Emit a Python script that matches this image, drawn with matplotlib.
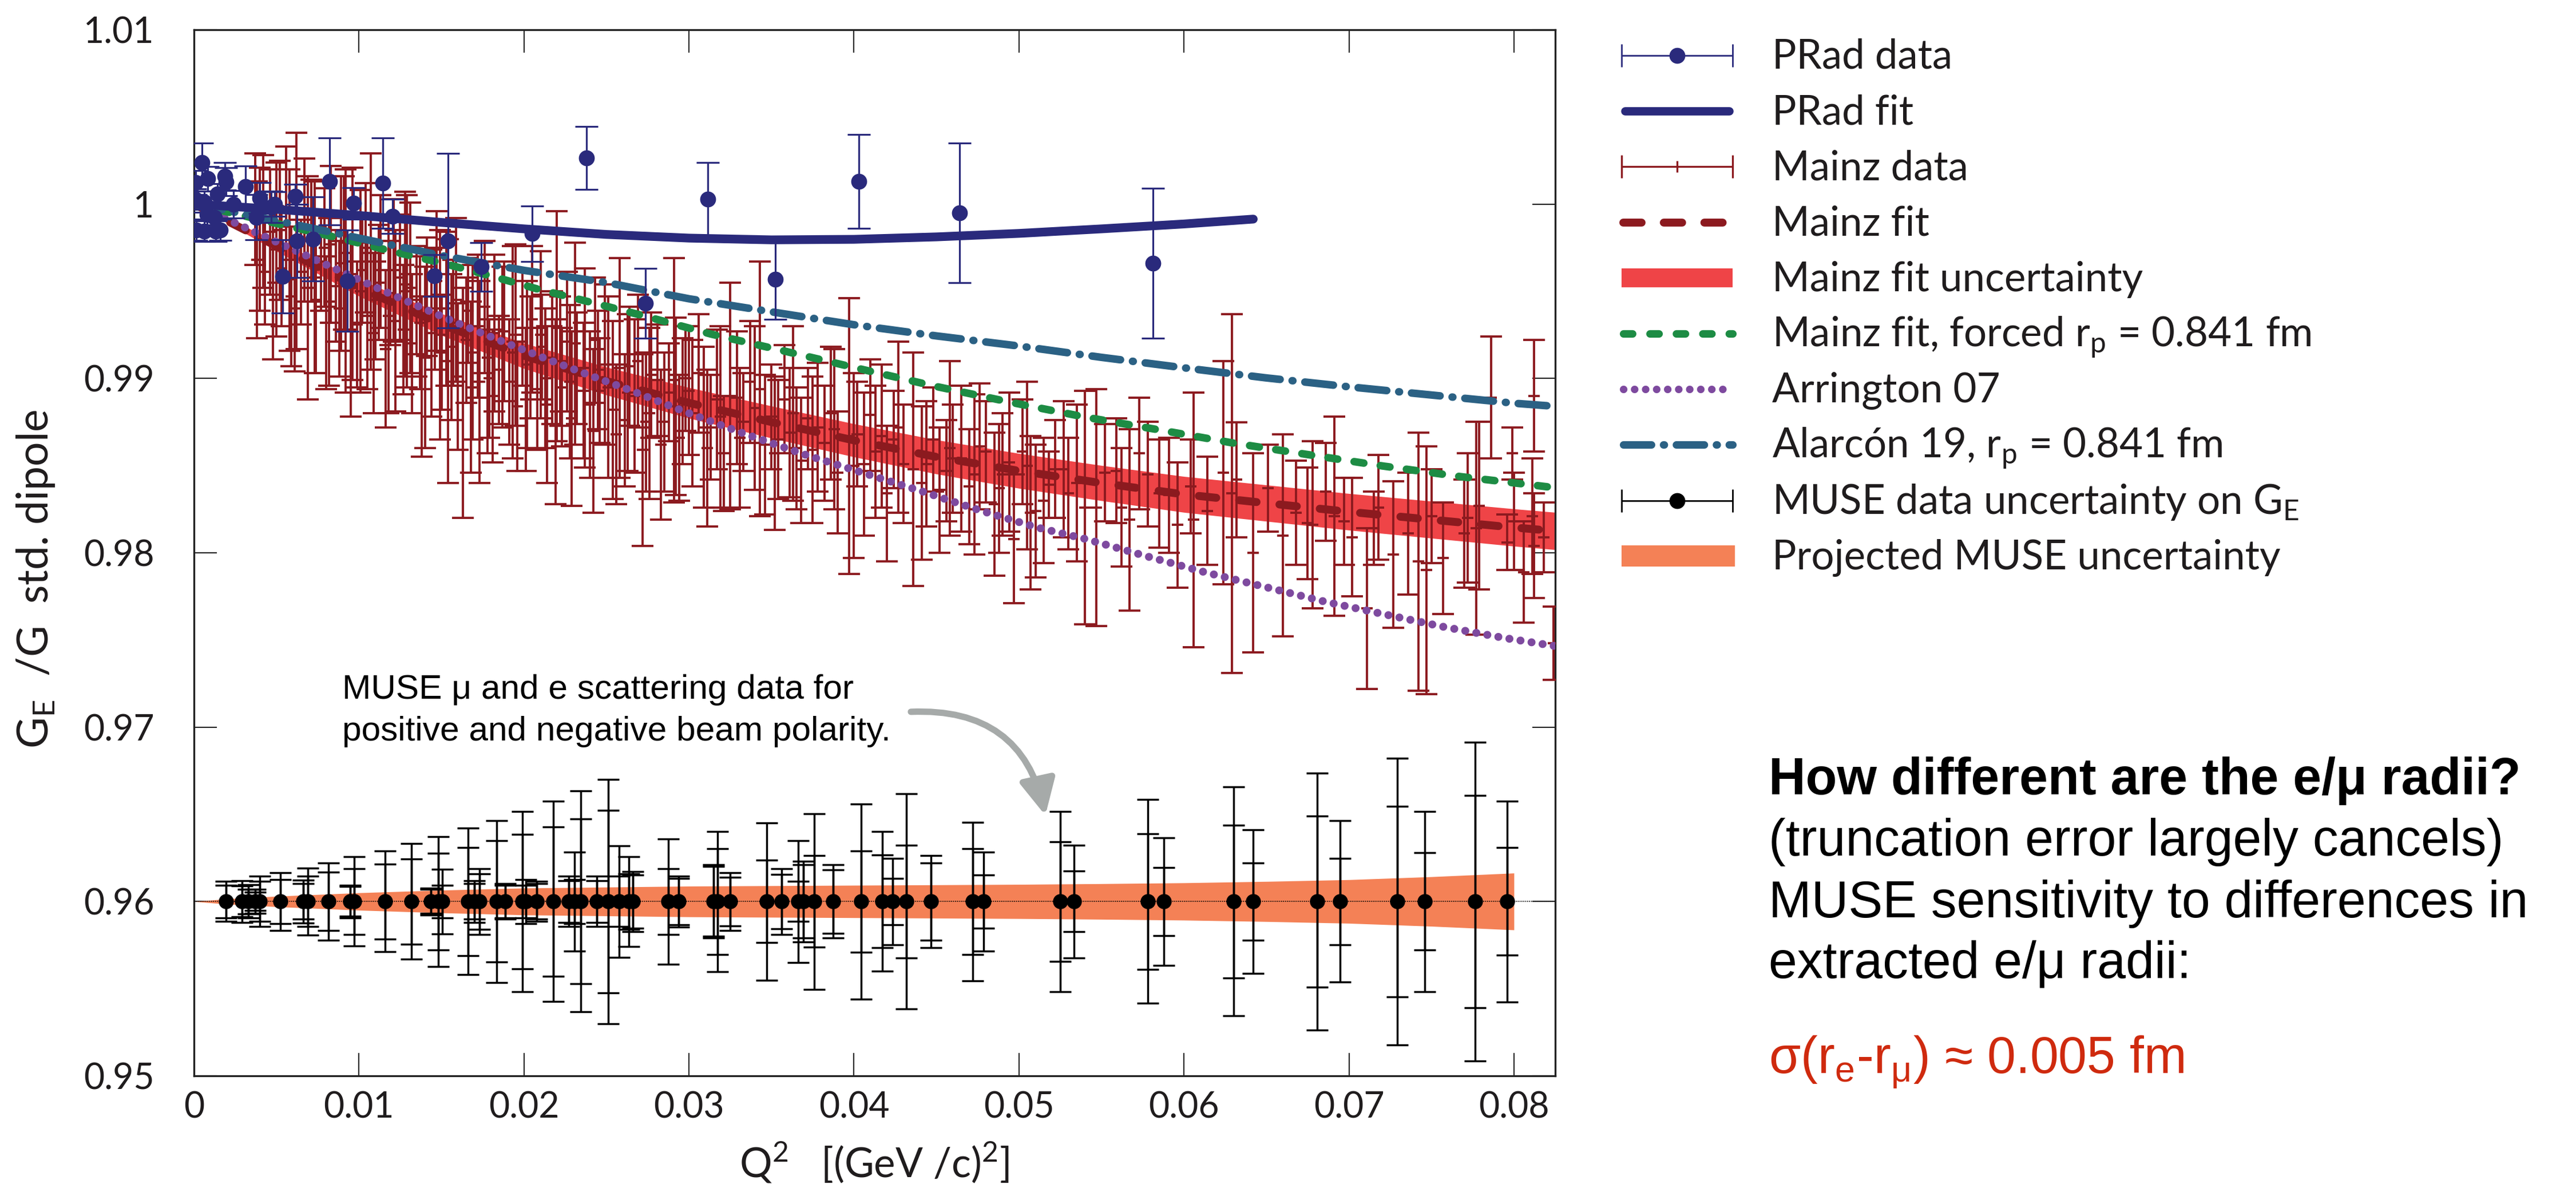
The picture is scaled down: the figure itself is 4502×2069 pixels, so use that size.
import numpy as np
import matplotlib
matplotlib.use("Agg")
import matplotlib.pyplot as plt
from matplotlib.patches import Rectangle

plt.rcParams['font.family'] = ['Lato', 'DejaVu Sans']

# ---------------- data ----------------
prad_q2 = [0.00006, 0.00010, 0.00013, 0.00050, 0.00062, 0.00062, 0.00080, 0.00083, 0.00124, 0.00133,
           0.00142, 0.00160, 0.00186, 0.00195, 0.00240, 0.00313, 0.00378, 0.00398, 0.00468, 0.00490,
           0.00536, 0.00614, 0.00625, 0.00720, 0.00823, 0.00928, 0.00969, 0.01144, 0.01202, 0.01458,
           0.01540, 0.01741, 0.02048, 0.02378, 0.02735, 0.03114, 0.03524, 0.04029, 0.04641, 0.05811]
prad_val = [1.00029, 1.00124, 0.99852, 1.00240, 1.00013, 0.99845, 0.99940, 1.00145, 0.99925, 0.99845,
            1.00057, 0.99852, 1.00160, 1.00128, 0.99999, 1.00100, 0.99924, 1.00035, 0.99984, 1.00000,
            0.99585, 1.00045, 0.99790, 0.99800, 1.00130, 0.99560, 1.00005, 1.00120, 0.99930, 0.99590,
            0.99790, 0.99640, 0.99830, 1.00265, 0.99430, 1.00030, 0.99570, 1.00130, 0.99950, 0.99660]
prad_err = [0.0006, 0.0007, 0.0006, 0.0011, 0.0006, 0.0006, 0.0006, 0.0007, 0.0006, 0.0006,
            0.0006, 0.0006, 0.0008, 0.0008, 0.0008, 0.0012, 0.0013, 0.0009, 0.0009, 0.0007,
            0.0021, 0.0007, 0.0021, 0.0024, 0.0025, 0.0029, 0.0009, 0.0026, 0.0010, 0.0012,
            0.0050, 0.0014, 0.0016, 0.0018, 0.0020, 0.0021, 0.0023, 0.0027, 0.0040, 0.0043]

prad_fit_q2 = [0.0, 0.005, 0.010, 0.015, 0.020, 0.025, 0.030, 0.035, 0.040, 0.045, 0.050, 0.055, 0.060, 0.0642]
prad_fit_val = [1.0, 0.99970, 0.99935, 0.99895, 0.99858, 0.99826, 0.99805, 0.99795, 0.99798, 0.99812,
                0.99832, 0.99858, 0.99886, 0.99914]

mainz_q2 = [
    0.0037, 0.0040, 0.0043, 0.0046, 0.0050, 0.0053, 0.0056, 0.0059, 0.0062, 0.0065,
    0.0069, 0.0071, 0.0074, 0.0077, 0.0080, 0.0083, 0.0086, 0.0089, 0.0092, 0.0096,
    0.0099, 0.0102, 0.0105, 0.0107, 0.0110, 0.0113, 0.0116, 0.0119, 0.0122, 0.0125,
    0.0128, 0.0129, 0.0132, 0.0135, 0.0138, 0.0141, 0.0144, 0.0147, 0.0150, 0.0153,
    0.0154, 0.0157, 0.0160, 0.0163, 0.0166, 0.0169, 0.0173, 0.0176, 0.0179, 0.0182,
    0.0185, 0.0188, 0.0193, 0.0196, 0.0199, 0.0202, 0.0205, 0.0208, 0.0211, 0.0214,
    0.0217, 0.0220, 0.0223, 0.0226, 0.0229, 0.0232, 0.0237, 0.0240, 0.0243, 0.0246,
    0.0249, 0.0254, 0.0258, 0.0261, 0.0264, 0.0267, 0.0272, 0.0274, 0.0277,
    0.0281, 0.0285, 0.0288, 0.0291, 0.0294, 0.0296, 0.0298, 0.0302, 0.0306, 0.0309,
    0.0313, 0.0317, 0.0321, 0.0325, 0.0329, 0.0333, 0.0337, 0.0343, 0.0346, 0.0350,
    0.0354, 0.0358, 0.0361, 0.0365, 0.0368, 0.0372, 0.0378, 0.0382, 0.0386, 0.0390,
    0.0397, 0.0402, 0.0406, 0.0410, 0.0417, 0.0420, 0.0424, 0.0430, 0.0436, 0.0444,
    0.0448, 0.0452, 0.0456, 0.0460, 0.0465, 0.0470, 0.0476, 0.0480, 0.0488, 0.0490,
    0.0494, 0.0497, 0.0502, 0.0507, 0.0510, 0.0518, 0.0522, 0.0527, 0.0530, 0.0540,
    0.0547, 0.0552, 0.0559, 0.0562, 0.0567, 0.0573, 0.0578, 0.0585, 0.0591, 0.0596,
    0.0604, 0.0606, 0.0614, 0.0624, 0.0629, 0.0632, 0.0642, 0.0651, 0.0660, 0.0668,
    0.0675, 0.0678, 0.0686, 0.0691, 0.0697, 0.0702, 0.0711, 0.0715, 0.0718, 0.0727,
    0.0736, 0.0742, 0.0747, 0.0750, 0.0757, 0.0770, 0.0772, 0.0777, 0.0779, 0.0786,
    0.0796, 0.0799, 0.0800, 0.0806, 0.0811, 0.0812, 0.0812, 0.0818, 0.0824]
mainz_val = [
    0.9997, 0.9980, 0.9961, 0.9984, 0.9974, 0.9963, 0.9995, 0.9947, 0.9979, 0.9961,
    0.9952, 0.9979, 0.9945, 0.9967, 0.9932, 0.9977, 0.9953, 0.9966, 0.9956, 0.9960,
    0.9931, 0.9962, 0.9936, 0.9967, 0.9945, 0.9967, 0.9917, 0.9949, 0.9933, 0.9958,
    0.9954, 0.9950, 0.9920, 0.9945, 0.9901, 0.9947, 0.9926, 0.9956, 0.9915, 0.9940,
    0.9910, 0.9932, 0.9901, 0.9886, 0.9939, 0.9915, 0.9898, 0.9941, 0.9900, 0.9926,
    0.9905, 0.9927, 0.9915, 0.9884, 0.9929, 0.9908, 0.9934, 0.9894, 0.9918, 0.9885,
    0.9912, 0.9930, 0.9895, 0.9921, 0.9877, 0.9906, 0.9906, 0.9885, 0.9922, 0.9893,
    0.9908, 0.9882, 0.9906, 0.9876, 0.9907, 0.9890, 0.9859, 0.9875, 0.9902,
    0.9899, 0.9875, 0.9892, 0.9899, 0.9866, 0.9887, 0.9900, 0.9880, 0.9903, 0.9872,
    0.9872, 0.9888, 0.9857, 0.9890, 0.9889, 0.9875, 0.9898, 0.9894, 0.9862, 0.9878,
    0.9865, 0.9888, 0.9869, 0.9860, 0.9853, 0.9877, 0.9872, 0.9863, 0.9880, 0.9846,
    0.9867, 0.9868, 0.9851, 0.9879, 0.9867, 0.9834, 0.9865, 0.9851, 0.9848, 0.9851,
    0.9865, 0.9836, 0.9847, 0.9854, 0.9854, 0.9838, 0.9861, 0.9858, 0.9837, 0.9845,
    0.9852, 0.9808, 0.9858, 0.9823, 0.9824, 0.9839, 0.9848, 0.9848, 0.9834, 0.9826,
    0.9826, 0.9846, 0.9847, 0.9826, 0.9819, 0.9857, 0.9845, 0.9834, 0.9833, 0.9816,
    0.9838, 0.9819, 0.9824, 0.9846, 0.9834, 0.9842, 0.9800, 0.9837, 0.9810, 0.9823,
    0.9817, 0.9816, 0.9835, 0.9821, 0.9818, 0.9809, 0.9768, 0.9814, 0.9826, 0.9799,
    0.9811, 0.9795, 0.9790, 0.9821, 0.9797, 0.9811, 0.9820, 0.9814, 0.9827, 0.9889,
    0.9806, 0.9857, 0.9818, 0.9789, 0.9821, 0.9890, 0.9804, 0.9809, 0.9748]
mainz_err = [
    0.0032, 0.0041, 0.0030, 0.0036, 0.0050, 0.0033, 0.0038, 0.0040, 0.0062, 0.0030,
    0.0064, 0.0035, 0.0042, 0.0028, 0.0038, 0.0045, 0.0032, 0.0050, 0.0064, 0.0061,
    0.0036, 0.0030, 0.0042, 0.0062, 0.0034, 0.0038, 0.0045, 0.0030, 0.0052, 0.0036,
    0.0053, 0.0055, 0.0040, 0.0031, 0.0046, 0.0034, 0.0048, 0.0040, 0.0033, 0.0044,
    0.0070, 0.0036, 0.0042, 0.0066, 0.0030, 0.0050, 0.0058, 0.0038, 0.0034, 0.0045,
    0.0031, 0.0040, 0.0061, 0.0037, 0.0033, 0.0048, 0.0042, 0.0035, 0.0030, 0.0045,
    0.0038, 0.0066, 0.0034, 0.0040, 0.0050, 0.0032, 0.0057, 0.0042, 0.0036, 0.0030,
    0.0046, 0.0051, 0.0063, 0.0038, 0.0034, 0.0044, 0.0055, 0.0040, 0.0036,
    0.0032, 0.0040, 0.0028, 0.0070, 0.0036, 0.0036, 0.0030, 0.0042, 0.0034, 0.0046,
    0.0030, 0.0040, 0.0033, 0.0065, 0.0038, 0.0028, 0.0035, 0.0073, 0.0040, 0.0030,
    0.0034, 0.0031, 0.0037, 0.0035, 0.0036, 0.0029, 0.0037, 0.0033, 0.0038, 0.0035,
    0.0079, 0.0030, 0.0041, 0.0032, 0.0041, 0.0039, 0.0028, 0.0034, 0.0067, 0.0036,
    0.0030, 0.0036, 0.0029, 0.0031, 0.0042, 0.0033, 0.0036, 0.0029, 0.0037, 0.0035,
    0.0040, 0.0037, 0.0030, 0.0044, 0.0038, 0.0019, 0.0028, 0.0039, 0.0032, 0.0067,
    0.0068, 0.0028, 0.0030, 0.0034, 0.0052, 0.0032, 0.0030, 0.0031, 0.0033, 0.0036,
    0.0027, 0.0073, 0.0031, 0.0064, 0.0103, 0.0033, 0.0057, 0.0025, 0.0058, 0.0030,
    0.0032, 0.0048, 0.0028, 0.0057, 0.0025, 0.0034, 0.0046, 0.0021, 0.0030, 0.0042,
    0.0035, 0.0074, 0.0071, 0.0027, 0.0032, 0.0031, 0.0037, 0.0061, 0.0048, 0.0035,
    0.0016, 0.0015, 0.0028, 0.0029, 0.0033, 0.0032, 0.0030, 0.0020, 0.0021]

# further Mainz points in the dense low-Q2 region
mainz_b_q2 = [
    0.0038, 0.0042, 0.0048, 0.0052, 0.0058, 0.0061, 0.0067, 0.0073, 0.0079, 0.0082, 0.0088, 0.0091,
    0.0095, 0.0101, 0.0104, 0.0109, 0.0112, 0.0118, 0.0121, 0.0127, 0.0131, 0.0137, 0.0140, 0.0146,
    0.0149, 0.0156, 0.0159, 0.0165, 0.0168, 0.0172, 0.0178, 0.0181, 0.0187, 0.0191, 0.0195, 0.0201,
    0.0204, 0.0210, 0.0213, 0.0219, 0.0222, 0.0228, 0.0231, 0.0236, 0.0242, 0.0245, 0.0251, 0.0256,
    0.0263, 0.0269, 0.0276, 0.0283, 0.0292, 0.0300, 0.0311, 0.0319, 0.0331, 0.0340, 0.0352, 0.0363,
    0.0375, 0.0388, 0.0400, 0.0413, 0.0427, 0.0441, 0.0458, 0.0473, 0.0485, 0.0505, 0.0515, 0.0535]
mainz_b_val = [
    0.9968, 0.9990, 0.9955, 0.9985, 0.9968, 0.9940, 0.9985, 0.9958, 0.9975, 0.9944, 0.9940, 0.9972,
    0.9928, 0.9950, 0.9975, 0.9926, 0.9955, 0.9936, 0.9962, 0.9928, 0.9952, 0.9932, 0.9912, 0.9940,
    0.9925, 0.9918, 0.9945, 0.9922, 0.9895, 0.9930, 0.9912, 0.9890, 0.9918, 0.9898, 0.9925, 0.9888,
    0.9912, 0.9925, 0.9900, 0.9881, 0.9910, 0.9898, 0.9920, 0.9893, 0.9870, 0.9905, 0.9895, 0.9868,
    0.9892, 0.9910, 0.9880, 0.9862, 0.9884, 0.9893, 0.9860, 0.9878, 0.9866, 0.9883, 0.9857, 0.9880,
    0.9859, 0.9871, 0.9850, 0.9858, 0.9872, 0.9840, 0.9860, 0.9845, 0.9828, 0.9850, 0.9830, 0.9840]
mainz_b_err = [
    0.0045, 0.0038, 0.0044, 0.0040, 0.0052, 0.0036, 0.0041, 0.0055, 0.0034, 0.0048, 0.0039, 0.0044,
    0.0050, 0.0058, 0.0037, 0.0046, 0.0033, 0.0056, 0.0041, 0.0037, 0.0049, 0.0038, 0.0052, 0.0035,
    0.0060, 0.0042, 0.0047, 0.0036, 0.0049, 0.0041, 0.0055, 0.0038, 0.0046, 0.0036, 0.0052, 0.0041,
    0.0035, 0.0048, 0.0040, 0.0053, 0.0037, 0.0044, 0.0058, 0.0039, 0.0047, 0.0034, 0.0052, 0.0040,
    0.0045, 0.0038, 0.0049, 0.0043, 0.0051, 0.0037, 0.0045, 0.0052, 0.0040, 0.0047, 0.0044, 0.0050,
    0.0042, 0.0046, 0.0053, 0.0038, 0.0049, 0.0044, 0.0050, 0.0046, 0.0041, 0.0048, 0.0036, 0.0045]

mainz_fit_q2 = [0.0, 0.005, 0.010, 0.015, 0.020, 0.025, 0.030, 0.035, 0.040, 0.045,
                0.050, 0.055, 0.060, 0.065, 0.070, 0.075, 0.080, 0.0825]
mainz_fit_val = [1.0, 0.99760, 0.99520, 0.99310, 0.99130, 0.98985, 0.98860, 0.98750, 0.98645, 0.98550,
                 0.98470, 0.98400, 0.98335, 0.98285, 0.98235, 0.98190, 0.98145, 0.98125]
mainz_fit_unc = [0.0, 0.00030, 0.00048, 0.00062, 0.00073, 0.00080, 0.00088, 0.00092, 0.00095, 0.00098,
                 0.00100, 0.00101, 0.00103, 0.00104, 0.00105, 0.00106, 0.00107, 0.00107]

forced_q2 = [0.0, 0.005, 0.00884, 0.01202, 0.01521, 0.01803, 0.02086, 0.02405, 0.02723, 0.03132,
             0.03592, 0.0405, 0.04493, 0.04951, 0.05409, 0.05862, 0.06296, 0.06767, 0.07204, 0.07675,
             0.08146, 0.0825]
forced_val = [1.0, 0.99889, 0.99804, 0.99729, 0.99658, 0.99587, 0.99512, 0.99437, 0.99360, 0.99255,
              0.99154, 0.99052, 0.98955, 0.98863, 0.98777, 0.98703, 0.98630, 0.98561, 0.98498, 0.98437,
              0.98385, 0.98373]

arrington_q2 = [0.0, 0.00265, 0.0053, 0.00796, 0.0106, 0.01326, 0.0159, 0.01856, 0.0212, 0.02387,
                0.02637, 0.0299, 0.03344, 0.03697, 0.0405, 0.04404, 0.04757, 0.05111, 0.05409, 0.05771,
                0.06133, 0.06497, 0.06858, 0.07221, 0.07585, 0.07945, 0.0825]
arrington_val = [1.0, 0.99885, 0.99770, 0.99655, 0.99540, 0.99428, 0.99320, 0.99217, 0.99118, 0.99022,
                 0.98935, 0.98804, 0.98680, 0.98565, 0.98460, 0.98355, 0.98245, 0.98145, 0.98078, 0.97981,
                 0.97887, 0.97803, 0.97719, 0.97646, 0.97573, 0.97511, 0.97465]

alarcon_q2 = [0.0, 0.005, 0.010, 0.015, 0.020, 0.025, 0.030, 0.035, 0.040, 0.045, 0.050, 0.055,
              0.060, 0.065, 0.070, 0.075, 0.080, 0.0825]
alarcon_val = [1.0, 0.99905, 0.99805, 0.99705, 0.99620, 0.99550, 0.99457, 0.99382, 0.99308, 0.99244,
               0.99186, 0.99121, 0.99061, 0.99003, 0.98952, 0.98905, 0.98858, 0.98840]

muse_offset = 0.96
muse_q2 = [0.00194, 0.00293, 0.00329, 0.00371, 0.00399, 0.00523, 0.00664, 0.00689, 0.00816, 0.00947,
           0.00972, 0.01159, 0.01318, 0.01435, 0.01480, 0.01505, 0.01661, 0.01700, 0.01731, 0.01834,
           0.01887, 0.01989, 0.02011, 0.02078, 0.02177, 0.02272, 0.02307, 0.02343, 0.02442, 0.02512,
           0.02576, 0.02636, 0.02661, 0.02876, 0.02936, 0.03148, 0.03173, 0.03251, 0.03470, 0.03562,
           0.03661, 0.03693, 0.03760, 0.03873, 0.04042, 0.04173, 0.04233, 0.04318, 0.04467, 0.04721,
           0.04785, 0.05252, 0.05332, 0.05782, 0.05878, 0.06302, 0.06419, 0.06806, 0.06947, 0.07294,
           0.07461, 0.07764, 0.07958]
muse_err_outer = [0.00115, 0.00119, 0.00095, 0.00069, 0.00144, 0.00166, 0.00124, 0.00192, 0.00222, 0.00094,
                  0.00256, 0.00289, 0.00331, 0.00077, 0.00373, 0.00186, 0.00420, 0.00119, 0.00189, 0.00465,
                  0.00102, 0.00518, 0.00127, 0.00115, 0.00574, 0.00144, 0.00283, 0.00634, 0.00144, 0.00700,
                  0.00319, 0.00258, 0.00172, 0.00360, 0.00147, 0.00210, 0.00403, 0.00166, 0.00452, 0.00189,
                  0.00350, 0.00232, 0.00503, 0.00210, 0.00560, 0.00400, 0.00247, 0.00617, 0.00265, 0.00455,
                  0.00284, 0.00518, 0.00324, 0.00584, 0.00365, 0.00657, 0.00413, 0.00737, 0.00463, 0.00823,
                  0.00518, 0.00915, 0.00577]
muse_err_inner = [0.00094, 0.00089, 0.00070, 0.00052, 0.00115, 0.00127, 0.00102, 0.00144, 0.00167, 0.00085,
                  0.00189, 0.00214, 0.00244, 0.00069, 0.00278, 0.00094, 0.00311, 0.00102, 0.00160, 0.00348,
                  0.00094, 0.00386, 0.00094, 0.00102, 0.00428, 0.00119, 0.00127, 0.00473, 0.00119, 0.00523,
                  0.00144, 0.00159, 0.00152, 0.00189, 0.00132, 0.00200, 0.00303, 0.00139, 0.00236, 0.00156,
                  0.00115, 0.00210, 0.00263, 0.00182, 0.00290, 0.00266, 0.00132, 0.00324, 0.00222, 0.00303,
                  0.00152, 0.00344, 0.00174, 0.00388, 0.00196, 0.00438, 0.00221, 0.00490, 0.00247, 0.00547,
                  0.00279, 0.00609, 0.00309]

muse_band_q2 = [0.0, 0.002, 0.005, 0.010, 0.015, 0.020, 0.030, 0.040, 0.050, 0.055, 0.060, 0.065,
                0.070, 0.075, 0.080]
muse_band_hw = [0.0, 0.00015, 0.00030, 0.00050, 0.00065, 0.00077, 0.00088, 0.00093, 0.00098, 0.00102,
                0.00107, 0.00115, 0.00125, 0.00142, 0.00163]

xticks = [0.0, 0.01, 0.02, 0.03, 0.04, 0.05, 0.06, 0.07, 0.08]
xticklabels = ['0', '0.01', '0.02', '0.03', '0.04', '0.05', '0.06', '0.07', '0.08']
yticks = [0.95, 0.96, 0.97, 0.98, 0.99, 1.00, 1.01]
yticklabels = ['0.95', '0.96', '0.97', '0.98', '0.99', '1', '1.01']

legend_labels = ['PRad data', 'PRad fit', 'Mainz data', 'Mainz fit', 'Mainz fit uncertainty',
                 r'Mainz fit, forced r$_\mathdefault{p}$ = 0.841 fm', 'Arrington 07',
                 r'Alarcón 19, r$_\mathdefault{p}$ = 0.841 fm',
                 r'MUSE data uncertainty on G$_\mathdefault{E}$', 'Projected MUSE uncertainty']

# ---------------- style ----------------
NAVY = '#2a2a7c'
DRED = '#8c1a1f'
BAND = '#ef4447'
GREEN = '#1d8c44'
PURPLE = '#7e4a9f'
TEAL = '#2b6184'
ORANGE = '#f48156'
GRAY = '#a6aaa9'
TXT = '#1f1c1d'
REDTXT = '#cf2a0e'

W, H = 4502, 2069
fig = plt.figure(figsize=(W / 100, H / 100), dpi=100)
ax = fig.add_axes([339 / W, 1 - 1880 / H, (2718 - 339) / W, (1880 - 52) / H])
ax.set_xlim(0, 0.0825)
ax.set_ylim(0.95, 1.01)

# Mainz band + data + fit
mf_v = np.array(mainz_fit_val)
mf_u = np.array(mainz_fit_unc)
ax.fill_between(mainz_fit_q2, mf_v - mf_u, mf_v + mf_u, color=BAND, lw=0, zorder=2)
mz_q = mainz_q2 + mainz_b_q2
mz_v = mainz_val + mainz_b_val
mz_e = mainz_err + mainz_b_err
ax.errorbar(mz_q, mz_v, yerr=mz_e, fmt='_', ms=14, mew=2.8, color=DRED,
            elinewidth=2.8, capsize=14, capthick=2.8, zorder=3)
ax.plot(mainz_fit_q2, mainz_fit_val, color=DRED, lw=10, dashes=(2.2, 2.9),
        dash_capstyle='round', zorder=4)
ax.plot(arrington_q2, arrington_val, color=PURPLE, lw=10, dashes=(0.01, 1.4),
        dash_capstyle='round', zorder=5)
ax.plot(forced_q2, forced_val, color=GREEN, lw=9.5, dashes=(1.3, 2.2),
        dash_capstyle='round', zorder=6)
ax.plot(alarcon_q2, alarcon_val, color=TEAL, lw=9.5, dashes=(3.8, 1.6, 0.1, 1.6),
        dash_capstyle='round', zorder=7)
ax.plot(prad_fit_q2, prad_fit_val, color=NAVY, lw=11, solid_capstyle='round', zorder=8)
ax.errorbar(prad_q2, prad_val, yerr=prad_err, fmt='o', ms=19, color=NAVY, mec=NAVY,
            elinewidth=2.3, capsize=14.5, capthick=2.3, zorder=9)

# MUSE
mb_hw = np.array(muse_band_hw)
ax.fill_between(muse_band_q2, muse_offset - mb_hw, muse_offset + mb_hw, color=ORANGE, lw=0, zorder=2)
ax.axhline(muse_offset, color='black', lw=1.2, ls=(0, (1, 1)), zorder=3)
muse_val = np.full(len(muse_q2), muse_offset)
ax.errorbar(muse_q2, muse_val, yerr=muse_err_outer, fmt='o', ms=18, color='black',
            elinewidth=2.5, capsize=13.7, capthick=2.5, zorder=4)
ax.errorbar(muse_q2, muse_val, yerr=muse_err_inner, fmt='none', ecolor='black',
            elinewidth=2.5, capsize=13.7, capthick=2.5, zorder=4)

# axes style
ax.set_xticks(xticks)
ax.set_xticklabels(xticklabels)
ax.set_yticks(yticks)
ax.set_yticklabels(yticklabels)
ax.tick_params(axis='both', which='major', direction='in', length=28.8, width=1.5,
               top=True, right=True, labelsize=45, colors='#222222', labelcolor=TXT)
ax.tick_params(axis='x', pad=19)
ax.tick_params(axis='y', pad=50)
for s in ax.spines.values():
    s.set_linewidth(2.4)
    s.set_color('#222222')

ax.set_xlabel(r'Q$^\mathdefault{2}$   [(GeV /c)$^\mathdefault{2}$]', fontsize=51, color=TXT)
ax.xaxis.set_label_coords(0.5, -0.061)
ax.set_ylabel(r'G$_\mathdefault{E}$  /G  std. dipole', fontsize=54, color=TXT)
ax.yaxis.set_label_coords(-0.101, 0.475)

# annotation inside axes
ax.text(0.00897, 0.97163, 'MUSE μ and e scattering data for', fontsize=43.5,
        family=['Liberation Sans', 'DejaVu Sans'], color='black', va='baseline', ha='left', zorder=10)
ax.text(0.00897, 0.96924, 'positive and negative beam polarity.', fontsize=43.5,
        family=['Liberation Sans', 'DejaVu Sans'], color='black', va='baseline', ha='left', zorder=10)
ax.annotate('', xy=(0.0516, 0.96494), xytext=(0.04345, 0.97088),
            arrowprops=dict(arrowstyle='-|>,head_length=0.9,head_width=0.45', mutation_scale=42,
                            connectionstyle='arc3,rad=-0.42', color=GRAY, lw=8,
                            shrinkA=0, shrinkB=0), zorder=10)

# ---------------- legend & side text (overlay in pixel units) ----------------
lax = fig.add_axes([0, 0, 1, 1], zorder=10)
lax.set_xlim(0, W)
lax.set_ylim(H, 0)
lax.axis('off')
lax.patch.set_alpha(0)

LX0, LX1, LTX = 2834, 3028, 3097
LY0, LDY = 97, 97.2
hx = [LX0, LX1]
xc = (LX0 + LX1) / 2
rows = [LY0 + i * LDY for i in range(len(legend_labels))]


def err_handle(y, color, lw, marker, ms):
    lax.plot(hx, [y, y], color=color, lw=lw, solid_capstyle='butt')
    lax.plot(hx, [y, y], ls='none', marker='|', ms=29, mew=lw, color=color)
    lax.plot([xc], [y], ls='none', marker=marker, ms=ms, mew=lw, color=color)


err_handle(rows[0], NAVY, 2.0, 'o', 18)
lax.plot([LX0 + 6, LX1 - 6], [rows[1]] * 2, color=NAVY, lw=10.5, solid_capstyle='round')
err_handle(rows[2], DRED, 2.4, '|', 14)
lax.plot([LX0 + 3, LX1], [rows[3]] * 2, color=DRED, lw=10, dashes=(2.3, 2.8), dash_capstyle='round')
lax.add_patch(Rectangle((LX0, rows[4] - 16.5), LX1 - LX0, 33, color=BAND, lw=0))
lax.plot([LX0 + 3, LX1], [rows[5]] * 2, color=GREEN, lw=9.5, dashes=(1.2, 2.3), dash_capstyle='round')
lax.plot([LX0 + 3, LX1], [rows[6]] * 2, color=PURPLE, lw=9.5, dashes=(0.01, 1.45), dash_capstyle='round')
lax.plot([LX0 + 3, LX1], [rows[7]] * 2, color=TEAL, lw=9.5, dashes=(3.7, 1.6, 0.1, 1.6), dash_capstyle='round')
err_handle(rows[8], 'black', 2.0, 'o', 18)
lax.add_patch(Rectangle((LX0, rows[9] - 18.5), LX1 - LX0 + 4, 37, color=ORANGE, lw=0))

for y, lab in zip(rows, legend_labels):
    lax.text(LTX, y + 23, lab, fontsize=51, va='baseline', ha='left', color=TXT)

side_font = ['Liberation Sans', 'DejaVu Sans']
lax.text(3091, 1388, 'How different are the e/μ radii?', fontsize=64.5, fontweight='bold',
         family=side_font, va='baseline', ha='left', color='black')
lax.text(3091, 1495, '(truncation error largely cancels)', fontsize=64.5,
         family=side_font, va='baseline', ha='left', color='black')
lax.text(3091, 1603, 'MUSE sensitivity to differences in', fontsize=64.5,
         family=side_font, va='baseline', ha='left', color='black')
lax.text(3091, 1709, 'extracted e/μ radii:', fontsize=64.5,
         family=side_font, va='baseline', ha='left', color='black')
lax.text(3091, 1875, r'σ(r$_\mathdefault{e}$-r$_\mathdefault{μ}$) ≈ 0.005 fm', fontsize=64.5,
         family=side_font, va='baseline', ha='left', color=REDTXT)

fig.savefig('out.png', dpi=100, facecolor='white')
